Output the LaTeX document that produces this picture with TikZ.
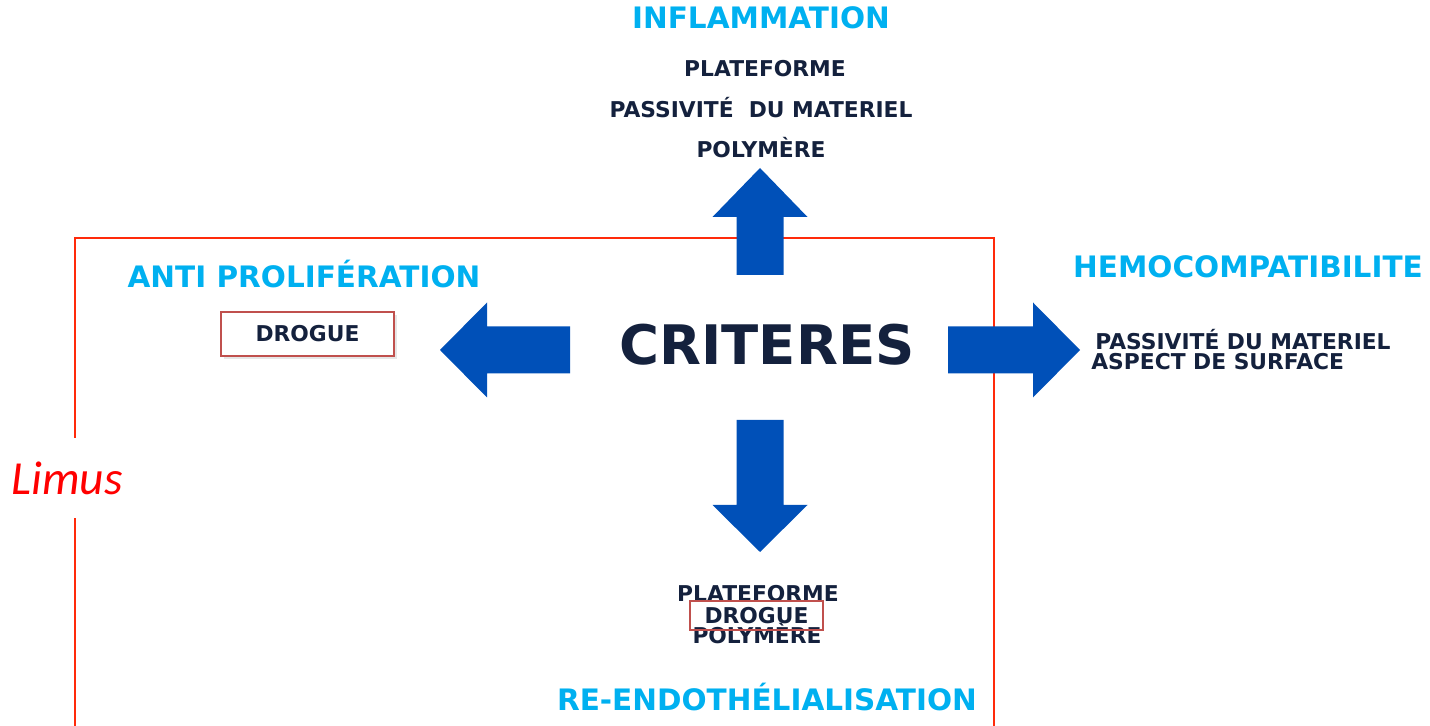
\documentclass[tikz,border=0pt]{standalone}
\usepackage{fontspec}
\setmainfont{DejaVu Sans}
\newfontfamily\limusfont{Carlito}
\usetikzlibrary{positioning, shadows}
\definecolor{crArrowF}{HTML}{0050B8}
\definecolor{crTitleC}{HTML}{00B0F0}
\definecolor{crDark}{HTML}{14213D}
\definecolor{crBoxS}{HTML}{C0504D}
\definecolor{crFrame}{HTML}{FF2A0A}
\definecolor{crLimus}{HTML}{FF0000}
\tikzset{
  crTitle/.style={font=\bfseries\fontsize{16.8}{20}\selectfont, text=crTitleC, inner sep=0pt},
  crItem/.style={font=\bfseries\fontsize{12.4}{15}\selectfont, text=crDark, inner sep=0pt},
  crCenter/.style={font=\bfseries\fontsize{31}{36}\selectfont, text=crDark, inner sep=0pt},
  crBox/.style={rectangle, draw=crBoxS, line width=0.3mm},
  pics/crArrow/.style args={#1/#2}{code={
    \fill[crArrowF] (0,-23.5) -- (#2,-23.5) -- (#2,-47.5) -- (#1,0)
                    -- (#2,47.5) -- (#2,23.5) -- (0,23.5) -- cycle;}},
}
\begin{document}
\begin{tikzpicture}[x=0.2mm, y=-0.2mm]
  \useasboundingbox (0,0) rectangle (1430,726);

  % --- Limus frame, open at the bottom ---
  \draw[crFrame, line width=0.45mm] (75,740) -- (75,238) -- (994,238) -- (994,740);
  \node[font=\limusfont\itshape\fontsize{27}{31}\selectfont, text=crLimus,
        fill=white, inner sep=0pt, minimum height=16mm] (limus) at (67,478) {Limus};

  % --- centre and the four block arrows ---
  \node[crCenter] (crit) at (767,345) {CRITERES};
  \pic[rotate=90]  (arUp)    at (760,275) {crArrow=107/58};
  \pic[rotate=-90] (arDown)  at (760,420) {crArrow=132/85};
  \pic[rotate=180] (arLeft)  at (570,350) {crArrow=130/83};
  \pic             (arRight) at (948,350) {crArrow=132/85};

  % --- top: inflammation ---
  \node[crTitle] (inflam) at (761,18) {INFLAMMATION};
  \node[crItem] (upPlat) at (765,69)  {PLATEFORME};
  \node[crItem] (upPass) at (761,108) {PASSIVITÉ\ \ DU MATERIEL};
  \node[crItem] (upPoly) at (761,148) {POLYMÈRE};

  % --- left: anti proliferation ---
  \node[crTitle] (antiP) at (304,274) {ANTI PROLIFÉRATION};
  \node[crItem, crBox, fill=white, minimum width=34.6mm, minimum height=8.8mm,
        drop shadow={shadow xshift=0.5mm, shadow yshift=-0.6mm, opacity=0.2}]
        (drogL) at (307.5,334) {DROGUE};

  % --- right: hemocompatibility ---
  \node[crTitle] (hemo) at (1248,267) {HEMOCOMPATIBILITE};
  \node[crItem, anchor=west] (hemoA) at (1095,340) {PASSIVITÉ DU MATERIEL};
  \node[crItem, anchor=west] (hemoB) at (1091,362) {ASPECT DE SURFACE};

  % --- bottom: re-endothelialisation ---
  \node[crItem] (dnPlat) at (758,594) {PLATEFORME};
  \node[crItem] (dnPoly) at (757,634) {POLYMÈRE};
  \node[crItem, crBox, minimum width=26.6mm, minimum height=5.8mm]
        (drogD) at (756.5,615.5) {DROGUE};
  \node[crTitle] (reendo) at (767,697) {RE-ENDOTHÉLIALISATION};
\end{tikzpicture}
\end{document}
